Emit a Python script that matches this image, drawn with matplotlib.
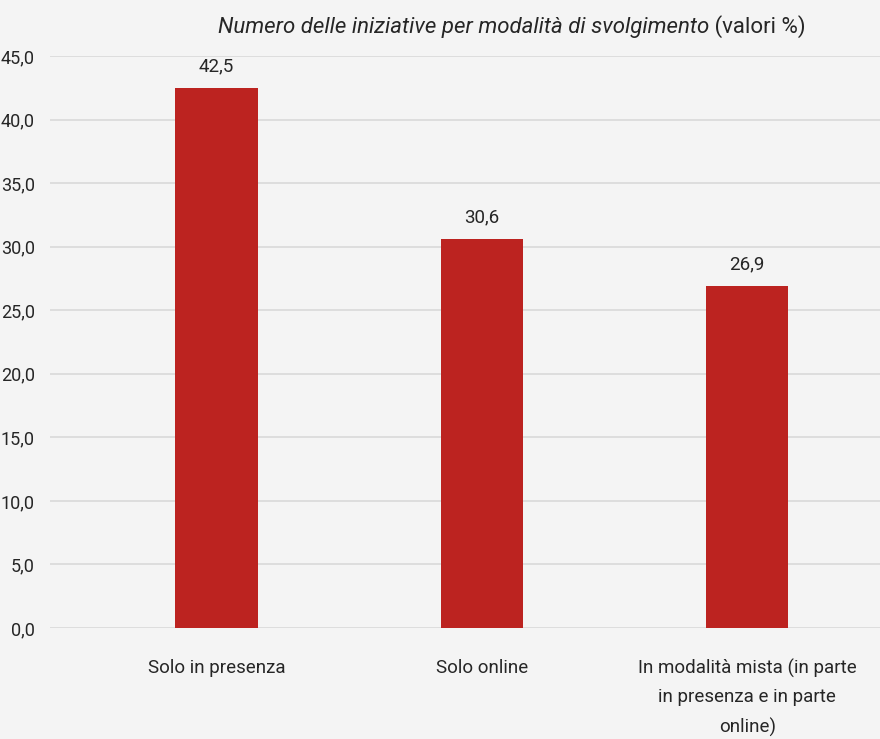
import matplotlib
matplotlib.use("Agg")
import matplotlib.pyplot as plt

categories = ["Solo in presenza", "Solo online",
              "In modalità mista (in parte\nin presenza e in parte\nonline)"]
values = [42.5, 30.6, 26.9]
yticks = [0, 5, 10, 15, 20, 25, 30, 35, 40, 45]

plt.rcParams["font.family"] = ["Roboto", "DejaVu Sans"]

bg = "#f4f4f4"
red = "#bc2320"
txt = "#262626"

fig = plt.figure(figsize=(8.8, 7.39), dpi=100, facecolor=bg)
ax = fig.add_axes([50 / 880, 111 / 739, 830 / 880, 572 / 739], facecolor=bg)

x = list(range(len(categories)))
bars = ax.bar(x, values, width=0.31, color=red, zorder=3)
for b, v in zip(bars, values):
    ax.annotate(f"{v:.1f}".replace(".", ","), (b.get_x() + b.get_width() / 2, v),
                xytext=(0, 9), textcoords="offset points", ha="center", va="bottom",
                fontsize=13.5, color=txt)

ax.set_xlim(-0.627, 2.5)
ax.set_ylim(0, 45)
ax.set_yticks(yticks)
ax.set_yticklabels([f"{t:.1f}".replace(".", ",") for t in yticks], fontsize=13, color=txt)
ax.set_xticks(x)
ax.set_xticklabels(categories, fontsize=13.5, color=txt, linespacing=1.75)
ax.tick_params(axis="y", length=0, pad=11)
ax.tick_params(axis="x", length=0, pad=22)
ax.grid(axis="y", color="#d9d9d9", linewidth=1.2, zorder=0)
for s in ax.spines.values():
    s.set_visible(False)

t1 = fig.text(218 / 880, 1 - 27 / 739, "Numero delle iniziative per modalità di svolgimento",
              fontsize=16, style="italic", color=txt, ha="left", va="center")
ax.annotate(" (valori %)", xy=(1, 0.5), xycoords=t1, ha="left", va="center",
            fontsize=16, color=txt)

fig.savefig("out.png", dpi=100, facecolor=bg)
